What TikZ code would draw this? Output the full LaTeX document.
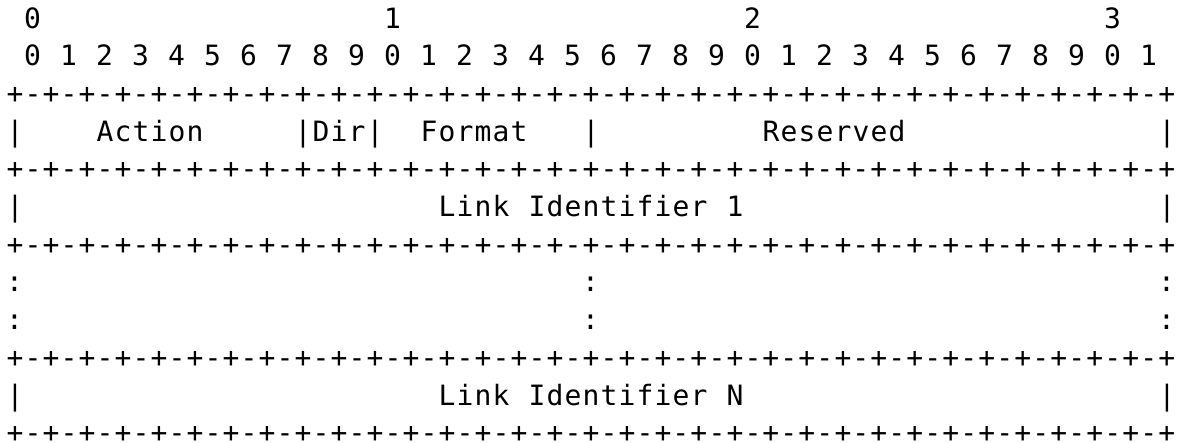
\documentclass[tikz,border=0pt]{standalone}
\usepackage{fontspec}
\setmonofont{DejaVu Sans Mono}

% fixed character cell of the packet grid
\newlength\cellw \setlength\cellw{18pt}
\makeatletter
% set every character of #1 in its own cell
\def\spreadchars#1{\spread@i#1\relax}
\def\spread@i#1{\ifx#1\relax\else\makebox[\cellw]{#1}\expandafter\spread@i\fi}
\makeatother
% one border row: +-+-...-+ (32 bits)
\newcommand\borderrow{\foreach \i in {1,...,32}{\makebox[\cellw]{+}\makebox[\cellw]{-}}\makebox[\cellw]{+}}

\tikzset{
  cell/.style={anchor=base west, inner sep=0pt, outer sep=0pt,
    font=\ttfamily\fontsize{28}{28}\selectfont, text=black},
}
% position of column #1, row #2
\newcommand\gridpos[2]{({6pt+(#1)*18pt},{-28pt-(#2)*37.7pt})}

\begin{document}
\begin{tikzpicture}[x=1pt,y=1pt]
  \fill[white] (0,0) rectangle (1186,-442);
  \useasboundingbox (0,0) rectangle (1186,-442);

  % bit ruler
  \node[cell] (tens0) at \gridpos{1}{0}  {0};
  \node[cell] (tens1) at \gridpos{21}{0} {1};
  \node[cell] (tens2) at \gridpos{41}{0} {2};
  \node[cell] (tens3) at \gridpos{61}{0} {3};
  \foreach \b in {0,...,31}{
    \pgfmathtruncatemacro\d{mod(\b,10)}
    \node[cell] (bit\b) at \gridpos{1+2*\b}{1} {\d};
  }

  % border rows
  \foreach \r in {2,4,6,9,11}{
    \node[cell] (border\r) at \gridpos{0}{\r} {\borderrow};
  }

  % first word
  \node[cell] (w1l)   at \gridpos{0}{3}  {\spreadchars{|}};
  \node[cell] (act)   at \gridpos{5}{3}  {\spreadchars{Action}};
  \node[cell] (dir)   at \gridpos{16}{3} {\spreadchars{|Dir|}};
  \node[cell] (fmt)   at \gridpos{23}{3} {\spreadchars{Format}};
  \node[cell] (w1m)   at \gridpos{32}{3} {\spreadchars{|}};
  \node[cell] (resv)  at \gridpos{42}{3} {\spreadchars{Reserved}};
  \node[cell] (w1r)   at \gridpos{64}{3} {\spreadchars{|}};

  % link identifier 1
  \node[cell] (l1l)   at \gridpos{0}{5}  {\spreadchars{|}};
  \node[cell] (l1a)   at \gridpos{24}{5} {\spreadchars{Link}};
  \node[cell] (l1b)   at \gridpos{29}{5} {\spreadchars{Identifier}};
  \node[cell] (l1c)   at \gridpos{40}{5} {\spreadchars{1}};
  \node[cell] (l1r)   at \gridpos{64}{5} {\spreadchars{|}};

  % elided words
  \foreach \r in {7,8}{
    \node[cell] (gapl\r) at \gridpos{0}{\r}  {:};
    \node[cell] (gapm\r) at \gridpos{32}{\r} {:};
    \node[cell] (gapr\r) at \gridpos{64}{\r} {:};
  }

  % link identifier N
  \node[cell] (lnl)   at \gridpos{0}{10}  {\spreadchars{|}};
  \node[cell] (lna)   at \gridpos{24}{10} {\spreadchars{Link}};
  \node[cell] (lnb)   at \gridpos{29}{10} {\spreadchars{Identifier}};
  \node[cell] (lnc)   at \gridpos{40}{10} {\spreadchars{N}};
  \node[cell] (lnr)   at \gridpos{64}{10} {\spreadchars{|}};
\end{tikzpicture}
\end{document}
